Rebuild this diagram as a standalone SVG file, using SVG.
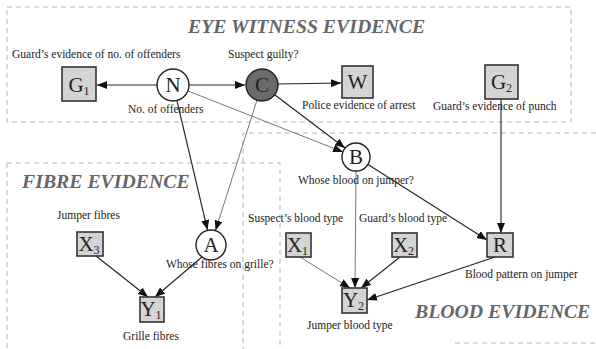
<svg xmlns="http://www.w3.org/2000/svg" width="596" height="349" viewBox="0 0 596 349" font-family="'Liberation Serif', 'Times New Roman', serif">
<defs>
<marker id="arr" viewBox="0 0 10 8" refX="10" refY="4" markerWidth="10" markerHeight="8" markerUnits="userSpaceOnUse" orient="auto">
<path d="M0,0 L10,4 L0,8 z" fill="#111"/>
</marker>
<style>
.frame{fill:none;stroke:#b5b5b5;stroke-width:1;stroke-dasharray:5,4}
.title{font-family:"Liberation Serif","Times New Roman",serif;font-weight:bold;font-style:italic;font-size:19.8px;fill:#666}
.lbl{font-family:"Liberation Serif","Times New Roman",serif;font-size:11.5px;fill:#222}
.box{fill:#d4d4d4;stroke:#333;stroke-width:1.6}
.circ{fill:#fff;stroke:#222;stroke-width:1.4}
.dark{fill:#6a6a6a;stroke:#222;stroke-width:1.4}
.nt{font-family:"Liberation Serif","Times New Roman",serif;font-size:21px;fill:#222;text-anchor:middle}
.st{font-size:12px}
.e{stroke:#222;stroke-width:1.1;fill:none;marker-end:url(#arr)}
.eg{stroke:#777;stroke-width:1;fill:none;marker-end:url(#arr)}
</style>
</defs>
<rect width="596" height="349" fill="#fff"/>
<g id="frames">
<rect class="frame" x="7" y="7" width="564" height="115"/>
<path class="frame" d="M7,163 H280 V349 M7,163 V349"/>
<path class="frame" d="M596,133 H243 V349 M455,343 H596"/>
</g>
<text class="title" x="188" y="33">EYE WITNESS EVIDENCE</text>
<text class="title" x="22" y="188">FIBRE EVIDENCE</text>
<text class="title" x="415" y="318">BLOOD EVIDENCE</text>
<g id="connectors">
<line class="e" x1="157" y1="85" x2="97" y2="85"/>
<line class="e" x1="189" y1="85" x2="245" y2="85"/>
<line class="e" x1="278" y1="84" x2="341" y2="83"/>
<line class="eg" x1="188" y1="91" x2="343" y2="152"/>
<line class="e" x1="275" y1="95" x2="345" y2="148"/>
<line class="e" x1="177" y1="101" x2="207.5" y2="230"/>
<line class="eg" x1="257" y1="100" x2="215.5" y2="230.5"/>
<line class="e" x1="501" y1="99" x2="501" y2="233"/>
<line class="eg" x1="356" y1="171" x2="355" y2="288"/>
<line class="e" x1="368" y1="164.5" x2="487" y2="240"/>
<line class="eg" x1="300" y1="257" x2="350" y2="288"/>
<line class="e" x1="400" y1="257" x2="361" y2="288"/>
<line class="e" x1="495" y1="257" x2="367" y2="300"/>
<line class="e" x1="96" y1="256" x2="148" y2="297"/>
<line class="e" x1="202" y1="257" x2="155" y2="297"/>
</g>
<g id="G1"><rect class="box" x="62" y="67" width="34" height="34"/><text class="nt" x="79" y="92">G<tspan class="st" dy="3">1</tspan></text>
<text class="lbl" x="12" y="58">Guard’s evidence of no. of offenders</text></g>
<g id="N"><circle class="circ" cx="173" cy="85" r="16"/><text class="nt" x="173" y="92">N</text>
<text class="lbl" x="128" y="113">No. of offenders</text></g>
<g id="C"><circle class="dark" cx="262" cy="85" r="16"/><text class="nt" x="262" y="92">C</text>
<text class="lbl" x="228" y="58">Suspect guilty?</text></g>
<g id="W"><rect class="box" x="342" y="66" width="31" height="32"/><text class="nt" x="357.5" y="89">W</text>
<text class="lbl" x="302" y="109">Police evidence of arrest</text></g>
<g id="G2"><rect class="box" x="485" y="65" width="33" height="34"/><text class="nt" x="501.5" y="89">G<tspan class="st" dy="3">2</tspan></text>
<text class="lbl" x="433" y="110">Guard’s evidence of punch</text></g>
<g id="B"><circle class="circ" cx="356" cy="157" r="14"/><text class="nt" x="356" y="164">B</text>
<text class="lbl" x="298" y="184">Whose blood on jumper?</text></g>
<g id="A"><circle class="circ" cx="211" cy="245" r="15"/><text class="nt" x="211" y="252">A</text>
<text class="lbl" x="166" y="268">Whose fibres on grille?</text></g>
<g id="X3"><rect class="box" x="77" y="232" width="26" height="24"/><text class="nt" x="89" y="251">X<tspan class="st" dy="3">3</tspan></text>
<text class="lbl" x="57" y="219">Jumper fibres</text></g>
<g id="Y1"><rect class="box" x="140" y="297" width="24" height="25"/><text class="nt" x="151" y="316">Y<tspan class="st" dy="3">1</tspan></text>
<text class="lbl" x="123" y="340">Grille fibres</text></g>
<g id="X1"><rect class="box" x="286" y="233" width="25" height="24"/><text class="nt" x="297.5" y="252">X<tspan class="st" dy="3">1</tspan></text>
<text class="lbl" x="248" y="222">Suspect’s blood type</text></g>
<g id="X2"><rect class="box" x="392" y="233" width="25" height="24"/><text class="nt" x="403.5" y="252">X<tspan class="st" dy="3">2</tspan></text>
<text class="lbl" x="359" y="222">Guard’s blood type</text></g>
<g id="R"><rect class="box" x="487" y="233" width="26" height="24"/><text class="nt" x="500" y="252">R</text>
<text class="lbl" x="465" y="278">Blood pattern on jumper</text></g>
<g id="Y2"><rect class="box" x="342" y="288" width="25" height="25"/><text class="nt" x="353.5" y="307">Y<tspan class="st" dy="3">2</tspan></text>
<text class="lbl" x="307" y="329">Jumper blood type</text></g>
</svg>
